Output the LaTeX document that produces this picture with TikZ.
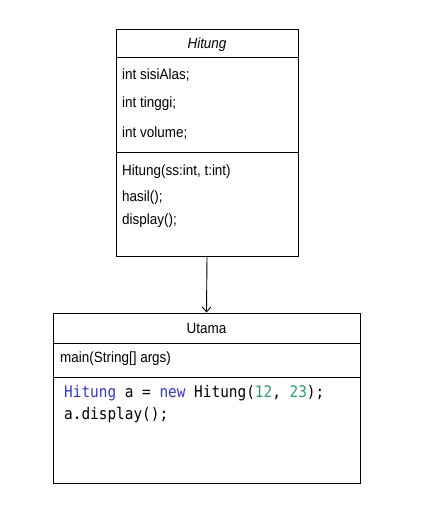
\documentclass[tikz,border=0pt]{standalone}
\usepackage{fontspec}
\setmainfont{Liberation Sans}
\newfontfamily\umlfont[FakeStretch=0.91]{Liberation Sans}
\newfontfamily\codefont[FakeStretch=0.9]{DejaVu Sans Mono}
\usepackage{tikz}
\usetikzlibrary{arrows.meta}

\definecolor{kwblue}{HTML}{3333EE}
\definecolor{numgreen}{HTML}{2E9C78}

\tikzset{
	classbox/.style={draw, line width=1pt, inner sep=0pt},
	member/.style={anchor=west, inner sep=0pt, font=\umlfont\fontsize{14.8}{16}\selectfont},
	codeline/.style={anchor=west, inner sep=0pt, font=\codefont\fontsize{16}{18}\selectfont}
}

\begin{document}
\begin{tikzpicture}[x=1pt, y=-1pt]
			\useasboundingbox (0, 0) rectangle (439, 511);
			
			% Klasse Hitung
			\node[classbox, minimum width=182pt, minimum height=226pt] (hitung) at (207, 143) {};
			\draw[line width=1pt] (116, 58) -- (298, 58);
			\draw[line width=1pt] (116, 152) -- (298, 152);
			\node[font=\umlfont\fontsize{14.8}{16}\selectfont\itshape] (hitungname) at (207, 45) {Hitung};
			\node[member] (a1) at (122, 75) {int sisiAlas;};
			\node[member] (a2) at (122, 104) {int tinggi;};
			\node[member] (a3) at (122, 133) {int volume;};
			\node[member] (m1) at (122, 172) {Hitung(ss:int, t:int)};
			\node[member] (m2) at (122, 198) {hasil();};
			\node[member] (m3) at (122, 221) {display();};
			
			% Klasse Utama
			\node[classbox, minimum width=307pt, minimum height=170pt] (utama) at (206.5, 398) {};
			\draw[line width=1pt] (53, 343) -- (360, 343);
			\draw[line width=1pt] (53, 377) -- (360, 377);
			\node[font=\umlfont\fontsize{14.8}{16}\selectfont] (utamaname) at (206.5, 328) {Utama};
			\node[member] (u1) at (60, 359) {main(String[] args)};
			\node[codeline] (c1) at (64, 393) {\textcolor{kwblue}{Hitung} a = \textcolor{kwblue}{new} Hitung(\textcolor{numgreen}{12}, \textcolor{numgreen}{23});};
			\node[codeline] (c2) at (64, 415) {a.display();};
			
			% Pfeil
			\draw[line width=0.9pt, -{Straight Barb[length=5pt, width=9pt]}] (hitung.south) -- (utama.north);
		\end{tikzpicture}
\end{document}
